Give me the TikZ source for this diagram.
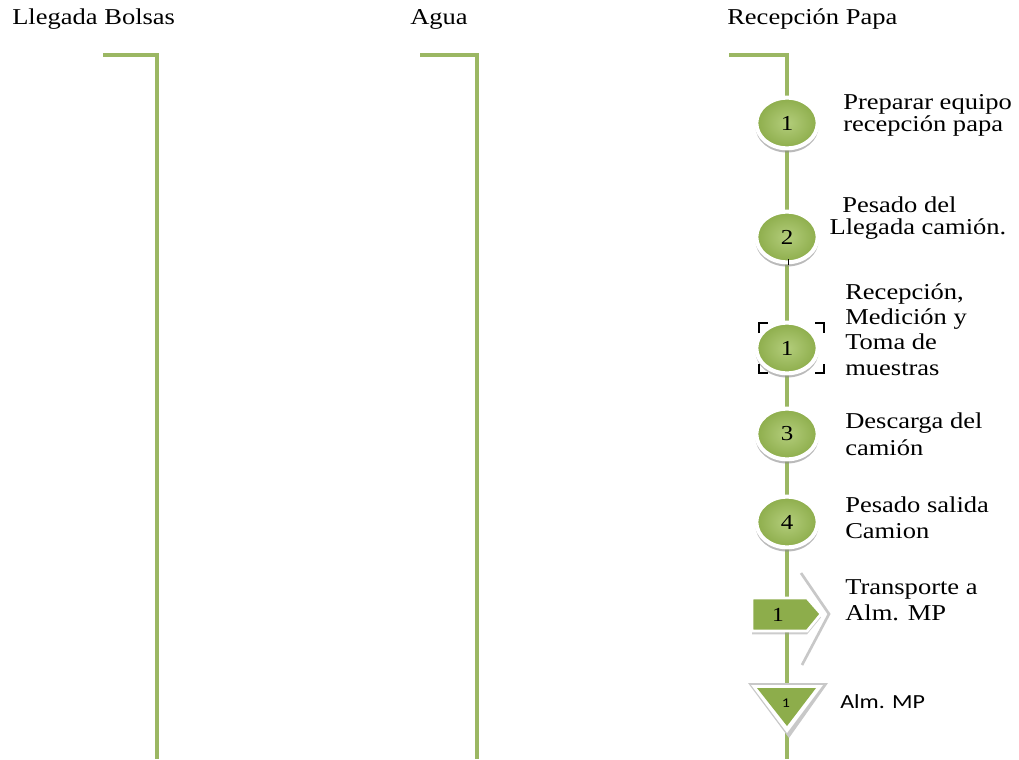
\documentclass[tikz,border=0pt]{standalone}
\usepackage{fontspec}
\setmainfont{Liberation Serif}[FakeStretch=1.17]
\newfontfamily\labelsans{Carlito}[FakeStretch=1.2]
\usetikzlibrary{shapes.geometric,shadows,backgrounds}

\definecolor{laneGreen}{HTML}{9BB763}
\definecolor{discLight}{HTML}{B3CD7B}
\definecolor{discDark}{HTML}{8DAD4B}
\definecolor{rimGray}{HTML}{C8C8C8}

\tikzset{
  lane/.style={draw=laneGreen, line width=3pt},
  header/.style={anchor=base west, inner sep=0pt, font=\fontsize{17}{20}\selectfont},
  stepdisc/.style={ellipse, minimum width=46pt, minimum height=38pt, inner sep=0pt,
    inner color=discLight, outer color=discDark, draw=white, line width=3pt,
    drop shadow={shadow xshift=0pt, shadow yshift=-2.5pt, shadow scale=1.03,
      fill=black!45, opacity=0.6},
    font=\fontsize{16}{16}\selectfont},
  steptext/.style={anchor=north west, align=left, inner sep=0pt},
  numtext/.style={inner sep=0pt, font=\fontsize{15}{15}\selectfont},
  corner/.style={draw=black, line width=0.8pt},
}

\begin{document}
\begin{tikzpicture}[x=0.75pt, y=-0.75pt]
\useasboundingbox (0,0) rectangle (1019,759);

% column headers
\node[header] (hBolsas) at (12,25) {Llegada Bolsas};
\node[header] (hAgua) at (410,25) {Agua};
\node[header] (hPapa) at (727,25) {Recepción Papa};

% lane corners and ends
\coordinate (bStart) at (103,55);
\coordinate (bCorner) at (157,55);
\coordinate (bEnd) at (157,759);
\coordinate (aStart) at (420,55);
\coordinate (aCorner) at (477,55);
\coordinate (aEnd) at (477,759);
\coordinate (pStart) at (729,55);
\coordinate (pCorner) at (787,55);
\coordinate (pEnd) at (787,759);

% operation discs
\node[stepdisc] (op1) at (787,123) {1};
\node[stepdisc] (op2) at (787,237) {2};
\node[stepdisc] (ins1) at (787,348) {1};
\node[stepdisc] (op3) at (787,434) {3};
\node[stepdisc] (op4) at (787,522) {4};

% selection corners round the inspection disc
\draw[corner] (759,333) -- (759,323) -- (768,323);
\draw[corner] (815,323) -- (824,323) -- (824,333);
\draw[corner] (759,364) -- (759,373) -- (768,373);
\draw[corner] (815,373) -- (824,373) -- (824,364);
\draw[black, line width=0.6pt] (788,259) -- (788,265);

% transport arrow
\draw[rimGray, line width=2pt, fill=white] (801,573) -- (829,614) -- (802,665);
\path[fill=discDark, draw=white, line width=2pt,
      drop shadow={shadow xshift=0pt, shadow yshift=-2.5pt, fill=black!40, opacity=0.5}]
  (752,598) -- (807,598) -- (821,614) -- (807,631) -- (752,631) -- cycle;
\node[numtext] (tr1) at (778,615) {1};

% storage triangle
\path[fill=rimGray] (748,683) -- (828,683) -- (789,738) -- cycle;
\path[fill=white] (751,685) -- (823,685) -- (787,733) -- cycle;
\path[fill=discDark] (757,688) -- (816,688) -- (787,726) -- cycle;
\node[inner sep=0pt, font=\labelsans\fontsize{10}{10}\selectfont] (st1) at (786,703) {1};

% lanes, behind the symbols
\begin{pgfonlayer}{background}
  \draw[lane] (bStart) -- (bCorner) -- (bEnd);
  \draw[lane] (aStart) -- (aCorner) -- (aEnd);
  \draw[lane] (pStart) -- (pCorner) -- (op1.center) -- (op2.center) -- (ins1.center)
    -- (op3.center) -- (op4.center) -- (pEnd);
\end{pgfonlayer}

% step descriptions
\node[steptext, font=\fontsize{17}{16.5}\selectfont] (t1) at (843,94)
  {Preparar equipo\\recepción papa};
\node[steptext, font=\fontsize{17}{16.5}\selectfont] (t2) at (842,197)
  {Pesado del\\\hspace*{-9.5pt}Llegada camión.};
\node[steptext, font=\fontsize{17}{19}\selectfont] (t3) at (845,283)
  {Recepción,\\Medición y\\Toma de\\muestras};
\node[steptext, font=\fontsize{17}{20}\selectfont] (t4) at (845,413)
  {Descarga del\\camión};
\node[steptext, font=\fontsize{17}{20}\selectfont] (t5) at (845,496)
  {Pesado salida\\Camion};
\node[steptext, font=\fontsize{17}{20}\selectfont] (t6) at (845,579)
  {Transporte a\\Alm. MP};
\node[anchor=west, inner sep=0pt, font=\labelsans\fontsize{15}{18}\selectfont] (t7) at (840,702)
  {Alm. MP};
\end{tikzpicture}
\end{document}
